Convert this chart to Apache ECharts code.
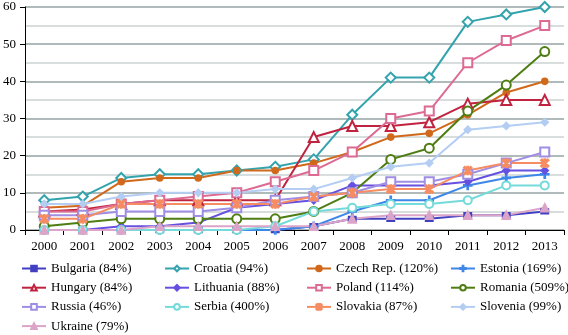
<!DOCTYPE html>
<html>
<head>
<meta charset="utf-8">
<script src="https://cdn.jsdelivr.net/npm/echarts@6/dist/echarts.min.js"></script>
<style>
  html, body { margin: 0; padding: 0; background: #fff; }
  #chart { width: 568px; height: 335px; }
</style>
</head>
<body>
<div id="chart"></div>
<script>
// years on the x axis
var years = ['2000', '2001', '2002', '2003', '2004', '2005', '2006', '2007', '2008', '2009', '2010', '2011', '2012', '2013'];

// values, one array per country
var bulgaria  = [0, 0, 0, 0, 0, 0, 0, 1, 3, 3, 3, 4, 4, 5];
var croatia   = [8, 9, 14, 15, 15, 16, 17, 19, 31, 41, 41, 56, 58, 60];
var czech     = [6, 6.5, 13, 14, 14, 16, 16, 18, 21, 25, 26, 31, 37, 40];
var estonia   = [0, 0, 0, 0, 0, 0, 0, 1, 5, 8, 8, 12, 14, 15];
var hungary   = [5, 5.5, 7, 8, 8, 8, 8, 25, 28, 28, 29, 34, 35, 35];
var lithuania = [0, 0, 1, 1, 2, 6, 7, 8, 12, 12, 12, 13, 16, 16];
var poland    = [5, 5, 7, 8, 9, 10, 13, 16, 21, 30, 32, 45, 51, 55];
var romania   = [1, 2, 3, 3, 3, 3, 3, 5, 10, 19, 22, 32, 39, 48];
var russia    = [4, 4, 5, 5, 5, 6, 8, 9, 10, 13, 13, 15, 18, 21];
var serbia    = [0, 0, 0, 0, 0, 0, 1, 5, 6, 7, 7, 8, 12, 12];
var slovakia  = [3, 3, 7, 7, 7, 7, 7, 9, 10, 11, 11, 16, 18, 18];
var slovenia  = [7, 7, 9, 10, 10, 10, 11, 11, 14, 17, 18, 27, 28, 29];
var ukraine   = [0, 0, 0, 1, 1, 1, 1, 1, 3, 4, 4, 4, 4, 6];

var yTicks = [0, 10, 20, 30, 40, 50, 60];

// marker shapes that echarts does not ship
var asterisk = 'path://M0 1.4L1.4 0L10 8.6L8.6 10ZM8.6 0L10 1.4L1.4 10L0 8.6ZM4.3 0L5.7 0L5.7 10L4.3 10Z';
var plus = 'path://M4.3 0h1.4v4.3h4.3v1.4h-4.3v4.3h-1.4v-4.3h-4.3v-1.4h4.3Z';

function line(name, data, color, symbol, size) {
    return {
        name: name,
        type: 'line',
        data: data,
        symbol: symbol,
        symbolSize: size,
        showAllSymbol: true,
        lineStyle: { color: color, width: 2 },
        itemStyle: { color: color, borderColor: color, borderWidth: 1.6 },
        emphasis: { disabled: true }
    };
}

var series = [
    line('Bulgaria (84%)', bulgaria, '#4040c0', 'rect', [7, 5]),
    line('Croatia (94%)', croatia, '#33a3ad', 'emptyDiamond', 10),
    line('Czech Rep. (120%)', czech, '#d0691c', 'circle', 6),
    line('Estonia (169%)', estonia, '#3d87e8', plus, 8),
    line('Hungary (84%)', hungary, '#c0233f', 'emptyTriangle', 10),
    line('Lithuania (88%)', lithuania, '#6650e0', 'diamond', 7),
    line('Poland (114%)', poland, '#dc6a92', 'emptyRect', 9),
    line('Romania (509%)', romania, '#4e7d12', 'emptyCircle', 9),
    line('Russia (46%)', russia, '#a08de4', 'emptyRect', 9),
    line('Serbia (400%)', serbia, '#74dada', 'emptyCircle', 8),
    line('Slovakia (87%)', slovakia, '#f58c62', asterisk, 8),
    line('Slovenia (99%)', slovenia, '#b3cdf3', 'diamond', 7),
    line('Ukraine (79%)', ukraine, '#dba4c8', 'triangle', 8)
];

var legendCols = [
    { left: 21, names: ['Bulgaria (84%)', 'Hungary (84%)', 'Russia (46%)', 'Ukraine (79%)'] },
    { left: 164, names: ['Croatia (94%)', 'Lithuania (88%)', 'Serbia (400%)'] },
    { left: 306, names: ['Czech Rep. (120%)', 'Poland (114%)', 'Slovakia (87%)'] },
    { left: 450, names: ['Estonia (169%)', 'Romania (509%)', 'Slovenia (99%)'] }
];

var font = '"Liberation Serif", "Times New Roman", serif';

var myChart = echarts.init(document.getElementById('chart'), null, { renderer: 'canvas' });
myChart.setOption({
    animation: false,
    backgroundColor: '#fff',
    grid: { left: 23, right: 4, top: 7, bottom: 105, containLabel: false },
    legend: legendCols.map(function (c) {
        return {
            orient: 'vertical',
            left: c.left,
            top: 261,
            padding: 0,
            itemWidth: 24,
            itemHeight: 7,
            itemGap: 4.2,
            selectedMode: false,
            data: c.names,
            textStyle: { fontFamily: font, fontSize: 13, color: '#000', lineHeight: 15 }
        };
    }),
    xAxis: {
        type: 'category',
        data: years,
        boundaryGap: true,
        axisLine: { lineStyle: { color: '#000', width: 1 } },
        axisTick: { show: true, inside: false, length: 5, lineStyle: { color: '#000' } },
        axisLabel: { fontFamily: font, fontSize: 13, color: '#000', margin: 10, interval: 0 },
        splitLine: { show: false }
    },
    yAxis: {
        type: 'value',
        min: yTicks[0],
        max: yTicks[yTicks.length - 1],
        interval: 10,
        axisLine: { show: true, lineStyle: { color: '#000', width: 1 } },
        axisTick: { show: true, inside: false, length: 5, lineStyle: { color: '#000' } },
        axisLabel: { fontFamily: font, fontSize: 13, color: '#000', margin: 9 },
        splitLine: { show: true, lineStyle: { color: '#97a3a3', width: 1.5 } },
        minorTick: { show: false, splitNumber: 2 },
        minorSplitLine: { show: true, lineStyle: { color: '#ccd3d3', width: 1.5 } }
    },
    series: series
});
</script>
</body>
</html>
